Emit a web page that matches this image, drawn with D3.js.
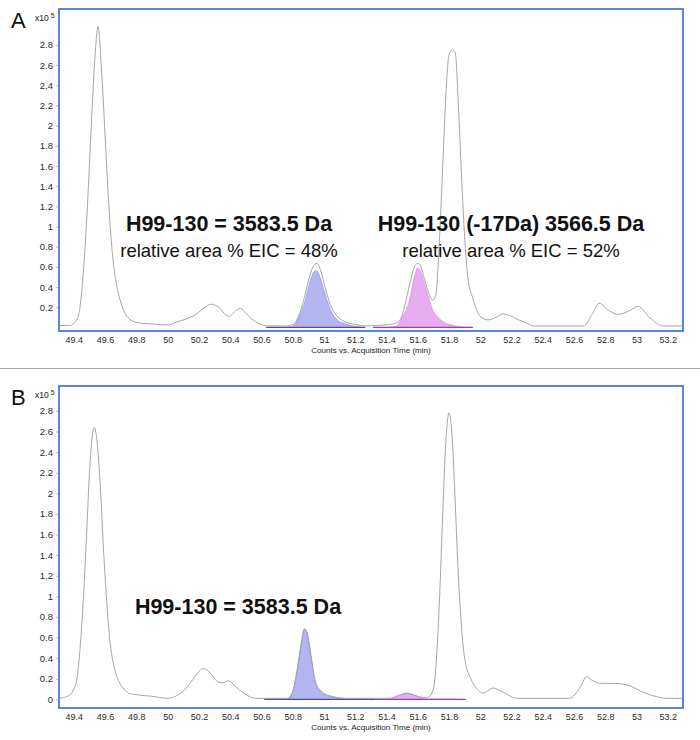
<!DOCTYPE html>
<html>
<head>
<meta charset="utf-8">
<script src="https://cdnjs.cloudflare.com/ajax/libs/d3/7.8.5/d3.min.js"></script>
<style>
  body { margin: 0; background: #fff; }
  svg { display: block; font-family: "Liberation Sans", Arial, sans-serif; }
</style>
</head>
<body>
<div id="chart"></div>
<script>
// tick values
var timeTicks = [49.4, 49.6, 49.8, 50, 50.2, 50.4, 50.6, 50.8, 51, 51.2, 51.4, 51.6, 51.8, 52, 52.2, 52.4, 52.6, 52.8, 53, 53.2]
var countTicksA = [0.2, 0.4, 0.6, 0.8, 1, 1.2, 1.4, 1.6, 1.8, 2, 2.2, 2.4, 2.6, 2.8]
var countTicksB = [0, 0.2, 0.4, 0.6, 0.8, 1, 1.2, 1.4, 1.6, 1.8, 2, 2.2, 2.4, 2.6, 2.8]

// panel A: total ion trace [time (min), counts x10^5]
var ticA = [[49.305,0.02],[49.37,0.02],[49.40,0.04],[49.43,0.12],[49.45,0.35],[49.47,0.75],[49.49,1.3],[49.51,1.95],[49.53,2.55],[49.555,2.98],[49.575,2.6],[49.60,1.9],[49.62,1.3],[49.64,0.85],[49.66,0.55],[49.68,0.37],[49.70,0.25],[49.745,0.1],[49.8,0.05],[49.9,0.035],[50.0,0.025],[50.06,0.055],[50.13,0.09],[50.19,0.14],[50.24,0.2],[50.275,0.23],[50.32,0.21],[50.39,0.11],[50.44,0.17],[50.465,0.19],[50.5,0.14],[50.55,0.07],[50.6,0.03],[50.65,0.015],[50.75,0.015],[50.8,0.03],[50.84,0.12],[50.87,0.27],[50.9,0.46],[50.93,0.6],[50.955,0.636],[50.98,0.56],[51.01,0.38],[51.04,0.23],[51.08,0.12],[51.13,0.06],[51.2,0.03],[51.27,0.015],[51.34,0.02],[51.42,0.03],[51.47,0.05],[51.5,0.12],[51.525,0.27],[51.56,0.5],[51.585,0.62],[51.605,0.636],[51.625,0.58],[51.65,0.44],[51.675,0.32],[51.697,0.27],[51.715,0.32],[51.74,0.9],[51.76,1.6],[51.78,2.3],[51.80,2.7],[51.82,2.75],[51.84,2.72],[51.86,2.2],[51.88,1.5],[51.90,0.9],[51.92,0.5],[51.95,0.3],[52.0,0.11],[52.05,0.075],[52.1,0.1],[52.146,0.134],[52.2,0.11],[52.24,0.08],[52.3,0.04],[52.34,0.015],[52.66,0.015],[52.72,0.14],[52.76,0.24],[52.82,0.17],[52.88,0.13],[52.96,0.17],[53.01,0.21],[53.085,0.094],[53.17,0.015],[53.297,0.015]]
var eicBlueA = [[50.63,0],[50.78,0.005],[50.805,0.02],[50.84,0.1],[50.88,0.27],[50.91,0.45],[50.935,0.55],[50.95,0.563],[50.97,0.52],[51.0,0.37],[51.02,0.27],[51.05,0.15],[51.085,0.074],[51.13,0.04],[51.21,0.01],[51.265,0]]
var eicPinkA = [[51.314,0],[51.44,0.005],[51.467,0.02],[51.50,0.1],[51.547,0.27],[51.575,0.48],[51.6,0.59],[51.62,0.55],[51.645,0.42],[51.675,0.27],[51.70,0.16],[51.73,0.1],[51.77,0.05],[51.807,0.03],[51.86,0.01],[51.953,0]]

// panel B
var ticB = [[49.305,0.01],[49.36,0.03],[49.40,0.1],[49.42,0.2],[49.44,0.5],[49.46,0.95],[49.48,1.55],[49.50,2.2],[49.52,2.58],[49.531,2.64],[49.545,2.55],[49.57,2.05],[49.59,1.45],[49.61,0.95],[49.63,0.58],[49.66,0.3],[49.69,0.17],[49.72,0.1],[49.75,0.06],[49.8,0.045],[49.9,0.03],[50.0,0.01],[50.05,0.03],[50.1,0.08],[50.15,0.17],[50.2,0.27],[50.23,0.3],[50.27,0.26],[50.32,0.17],[50.35,0.16],[50.39,0.18],[50.43,0.13],[50.47,0.08],[50.52,0.03],[50.56,0.01],[50.78,0.01],[50.8,0.08],[50.83,0.3],[50.855,0.55],[50.875,0.685],[50.895,0.63],[50.92,0.4],[50.95,0.15],[51.0,0.06],[51.05,0.03],[51.15,0.01],[51.42,0.01],[51.48,0.04],[51.53,0.06],[51.58,0.04],[51.63,0.02],[51.665,0.02],[51.70,0.1],[51.72,0.4],[51.74,1.0],[51.76,1.8],[51.78,2.5],[51.80,2.78],[51.82,2.55],[51.84,1.9],[51.86,1.2],[51.88,0.7],[51.90,0.4],[51.94,0.2],[51.98,0.1],[52.02,0.06],[52.08,0.11],[52.146,0.07],[52.234,0.01],[52.57,0.01],[52.64,0.12],[52.68,0.22],[52.72,0.18],[52.77,0.155],[52.85,0.155],[52.94,0.14],[53.04,0.07],[53.13,0.025],[53.19,0.01],[53.297,0.01]]
var eicBlueB = [[50.618,0],[50.75,0],[50.8,0.07],[50.83,0.29],[50.855,0.54],[50.875,0.68],[50.895,0.62],[50.92,0.38],[50.95,0.14],[51.0,0.05],[51.05,0.025],[51.15,0.005],[51.33,0]]
var eicPinkB = [[51.33,0],[51.42,0],[51.46,0.02],[51.5,0.05],[51.53,0.058],[51.57,0.045],[51.62,0.015],[51.66,0.003],[51.906,0]]

var xTitle = "Counts vs. Acquisition Time (min)"

var width = 700, height = 740

var svg = d3.select("#chart").append("svg")
    .attr("width", width)
    .attr("height", height)

var x = d3.scaleLinear().domain([49.305, 53.297]).range([59, 683])

// separator between the two panels
svg.append("line")
    .attr("x1", 0).attr("x2", width)
    .attr("y1", 368.5).attr("y2", 368.5)
    .attr("stroke", "#a8a8a8")
    .attr("stroke-width", 1)

function drawPanel(p) {
    var top = p.top, bottom = p.top + 322
    var y = d3.scaleLinear().domain(p.yDomain).range([bottom, top])
    var g = svg.append("g")

    var clipId = "clip-" + p.letter
    g.append("clipPath").attr("id", clipId)
        .append("rect")
        .attr("x", 59).attr("y", top)
        .attr("width", 624).attr("height", 322)

    var area = d3.area()
        .x(function(d) { return x(d[0]) })
        .y0(y(0))
        .y1(function(d) { return y(d[1]) })
        .curve(d3.curveMonotoneX)
    var line = d3.line()
        .x(function(d) { return x(d[0]) })
        .y(function(d) { return y(d[1]) })
        .curve(d3.curveMonotoneX)

    var plot = g.append("g").attr("clip-path", "url(#" + clipId + ")")

    // extracted ion peaks
    var eics = [
        { data: p.blue, fill: "#b4b4f0", edge: "#8a8ad8", base: "#4b4bb4" },
        { data: p.pink, fill: "#e8acf2", edge: "#cc88dd", base: "#9a3cbc" }
    ]
    eics.forEach(function(e) {
        plot.append("path")
            .attr("d", area(e.data))
            .attr("fill", e.fill)
        plot.append("path")
            .attr("d", line(e.data))
            .attr("fill", "none")
            .attr("stroke", e.edge)
            .attr("stroke-width", 0.6)
        var ends = [e.data[0], e.data[e.data.length - 1]]
        plot.append("line")
            .attr("x1", x(ends[0][0])).attr("x2", x(ends[1][0]))
            .attr("y1", y(0)).attr("y2", y(0))
            .attr("stroke", e.base)
            .attr("stroke-width", 1.3)
    })

    // total trace
    plot.append("path")
        .attr("d", line(p.tic))
        .attr("fill", "none")
        .attr("stroke", "#9c9c9c")
        .attr("stroke-width", 0.9)

    // axes
    var yAxis = d3.axisLeft(y).tickValues(p.yTicks).tickSize(3).tickPadding(3)
        .tickFormat(function(d) { return d3.format("~g")(d) })
    g.append("g")
        .attr("transform", "translate(59,0)")
        .call(yAxis)
        .call(function(s) {
            s.select(".domain").remove()
            s.selectAll(".tick line").attr("stroke", "#bbb")
            s.selectAll("text").attr("fill", "#2a2a2a").attr("font-size", 9.5).attr("font-family", "Liberation Sans, Arial, sans-serif")
        })

    var xAxis = d3.axisBottom(x).tickValues(timeTicks).tickSize(0).tickPadding(6)
        .tickFormat(function(d) { return d3.format("~g")(d) })
    g.append("g")
        .attr("transform", "translate(0," + bottom + ")")
        .call(xAxis)
        .call(function(s) {
            s.select(".domain").remove()
            s.selectAll("text").attr("fill", "#2a2a2a").attr("font-size", 9).attr("font-family", "Liberation Sans, Arial, sans-serif")
        })

    g.append("text")
        .attr("x", 371).attr("y", bottom + 22)
        .attr("text-anchor", "middle")
        .attr("font-size", 8.1)
        .attr("fill", "#222")
        .text(xTitle)

    // frame
    g.append("rect")
        .attr("x", 59).attr("y", top)
        .attr("width", 624).attr("height", 322)
        .attr("fill", "none")
        .attr("stroke", "#5b84e0")
        .attr("stroke-width", 2)

    // exponent label
    var ex = g.append("text")
        .attr("x", 35).attr("y", top + 12)
        .attr("font-size", 8.5)
        .attr("fill", "#222")
    ex.append("tspan").text("x10")
    ex.append("tspan").attr("dx", 2).attr("dy", -3).attr("font-size", 7).text("5")

    // panel letter
    g.append("text")
        .attr("x", 11).attr("y", top + 19)
        .attr("font-size", 22)
        .attr("fill", "#111")
        .text(p.letter)

    // annotations
    p.notes.forEach(function(n) {
        g.append("text")
            .attr("x", n.x).attr("y", n.y)
            .attr("text-anchor", "middle")
            .attr("font-size", n.bold ? 21.5 : 18.5)
            .attr("font-weight", n.bold ? "bold" : "normal")
            .attr("fill", "#111")
            .text(n.text)
    })
}

drawPanel({
    letter: "A", top: 9, yDomain: [-0.035, 3.155], yTicks: countTicksA,
    tic: ticA, blue: eicBlueA, pink: eicPinkA,
    notes: [
        { text: "H99-130 = 3583.5 Da", x: 229, y: 231, bold: true },
        { text: "relative area % EIC = 48%", x: 229, y: 257, bold: false },
        { text: "H99-130 (-17Da) 3566.5 Da", x: 511, y: 231, bold: true },
        { text: "relative area % EIC = 52%", x: 511, y: 257, bold: false }
    ]
})

drawPanel({
    letter: "B", top: 386, yDomain: [-0.084, 3.042], yTicks: countTicksB,
    tic: ticB, blue: eicBlueB, pink: eicPinkB,
    notes: [
        { text: "H99-130 = 3583.5 Da", x: 238, y: 614, bold: true }
    ]
})
</script>
</body>
</html>
